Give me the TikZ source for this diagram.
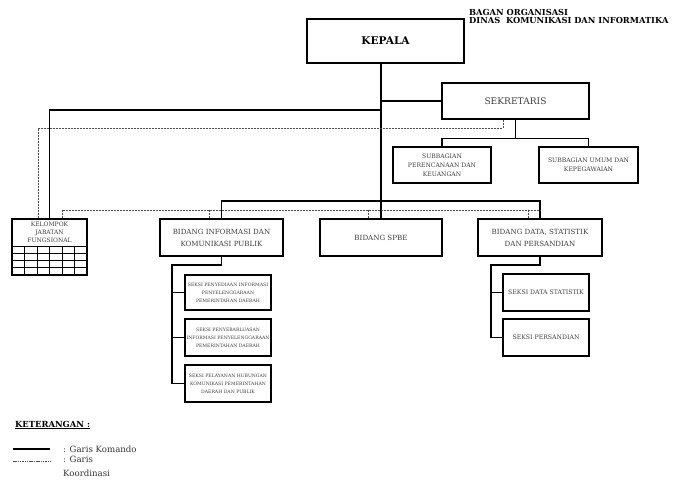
\documentclass[tikz,border=0pt]{standalone}
\usepackage{fontspec}
\setmainfont{DejaVu Serif}
\begin{document}
\begin{tikzpicture}[x=1pt,y=-1pt,
  box/.style={draw=black,line width=1.5pt,inner sep=0pt,align=center,text=black!75},
  cmd/.style={line width=1.5pt,black},
  coord/.style={line width=0.8pt,black!70,dash pattern=on 2pt off 1pt},
  grid/.style={line width=1pt,black}]
\useasboundingbox[fill=white] (0,0) rectangle (678,481);
% title
\node[anchor=north west,align=left,inner sep=0pt,font=\bfseries\fontsize{8.3}{8.5}\selectfont] (title) at (469,9)
  {BAGAN ORGANISASI\\DINAS\ \ KOMUNIKASI DAN INFORMATIKA};
% boxes
\node[box,minimum width=157pt,minimum height=44pt,text=black,font=\bfseries\fontsize{10.6}{12}\selectfont] (kep) at (385.5,41) {KEPALA};
\node[box,minimum width=147pt,minimum height=36pt,font=\fontsize{9.1}{10}\selectfont] (sek) at (515.5,101) {SEKRETARIS};
\node[box,minimum width=98pt,minimum height=36pt,font=\fontsize{6.1}{9}\selectfont] (sub1) at (442,165) {SUBBAGIAN\\PERENCANAAN DAN\\KEUANGAN};
\node[box,minimum width=99pt,minimum height=36pt,font=\fontsize{6.1}{9}\selectfont] (sub2) at (588.5,165) {SUBBAGIAN UMUM DAN\\KEPEGAWAIAN};
\node[box,minimum width=123pt,minimum height=37pt,font=\fontsize{7.1}{12}\selectfont] (bid1) at (221.5,237.5) {BIDANG INFORMASI DAN\\KOMUNIKASI PUBLIK};
\node[box,minimum width=122pt,minimum height=37pt,font=\fontsize{7.1}{12}\selectfont] (bid2) at (381,237.5) {BIDANG SPBE};
\node[box,minimum width=124pt,minimum height=37pt,font=\fontsize{7.1}{12}\selectfont] (bid3) at (540,237.5) {BIDANG DATA, STATISTIK\\DAN PERSANDIAN};
\node[box,minimum width=86pt,minimum height=35pt,font=\fontsize{4.6}{8}\selectfont] (s1) at (228,292.5) {SEKSI PENYEDIAAN INFORMASI\\PENYELENGGARAAN\\PEMERINTAHAN DAERAH};
\node[box,minimum width=86pt,minimum height=37pt,font=\fontsize{4.6}{8}\selectfont] (s2) at (228,337.5) {SEKSI PENYEBARLUASAN\\INFORMASI PENYELENGGARAAN\\PEMERINTAHAN DAERAH};
\node[box,minimum width=86pt,minimum height=37pt,font=\fontsize{4.6}{8}\selectfont] (s3) at (228,383.5) {SEKSI PELAYANAN HUBUNGAN\\KOMUNIKASI PEMERINTAHAN\\DAERAH DAN PUBLIK};
\node[box,minimum width=86pt,minimum height=37pt,font=\fontsize{6.2}{8}\selectfont] (r1) at (546,292.5) {SEKSI DATA STATISTIK};
\node[box,minimum width=86pt,minimum height=37pt,font=\fontsize{6.2}{8}\selectfont] (r2) at (546,337.5) {SEKSI PERSANDIAN};
% kelompok jabatan fungsional
\node[box,minimum width=75pt,minimum height=56pt] (kel) at (49.5,247) {};
\node[inner sep=0pt,align=center,text=black!75,font=\fontsize{6}{8}\selectfont] (keltxt) at (49.5,232) {KELOMPOK\\JABATAN\\FUNGSIONAL};
\draw[grid] (kel.west |- 0,247) -- (kel.east |- 0,247);
\foreach \yy in {254,261,268} \draw[grid] (kel.west |- 0,\yy) -- (kel.east |- 0,\yy);
\foreach \xx in {24.5,37,49.5,62,74.5} \draw[grid] (\xx,247) -- (kel.south -| \xx,0);
% command lines
\coordinate (j1) at (381,110);
\coordinate (j3) at (381,201);
\draw[cmd] (kep.south -| bid2.north) -- (bid2.north);
\draw[cmd] (sek.west) -- (sek.west -| bid2.north);
\draw[cmd] (kel.north) |- (j1);
\draw[cmd] (sek.south) -- ++(0,19) coordinate (j2);
\draw[cmd] (sub1.north) |- (j2) -| (sub2.north);
\draw[cmd] (bid1.north) |- (j3) -| (bid3.north);
\coordinate (lj) at (172,265);
\draw[cmd] (bid1.south) |- (lj) -- (lj |- s3.west) -- (s3.west);
\draw[cmd] (lj |- s1.west) -- (s1.west);
\draw[cmd] (lj |- s2.west) -- (s2.west);
\coordinate (rj) at (491,265);
\draw[cmd] (bid3.south) |- (rj) -- (rj |- r2.west) -- (r2.west);
\draw[cmd] (rj |- r1.west) -- (r1.west);
% coordination lines
\coordinate (c1) at (38,128);
\draw[coord] ([xshift=-12.5pt]sek.south) |- (c1) -- ([xshift=-11.5pt]kel.north);
\coordinate (c2) at (62,210);
\coordinate (c3) at (540,210);
\draw[coord] ([xshift=12.5pt]kel.north) |- (c2) -- (c3);
\draw[coord] ([xshift=-12.5pt]bid1.north) -- ++(0,-9);
\draw[coord] ([xshift=-13pt]bid2.north) -- ++(0,-9);
\draw[coord] ([xshift=-12pt]bid3.north) -- ++(0,-9);
% legend
\node[anchor=west,inner sep=0pt,font=\bfseries\fontsize{8.4}{10}\selectfont] (ket) at (15,425) {\underline{KETERANGAN :}};
\coordinate (l1a) at (13,449);
\coordinate (l1b) at (50,449);
\coordinate (l2a) at (13,461);
\coordinate (l2b) at (50,461);
\draw[cmd,line width=1.3pt] (l1a) -- (l1b);
\draw[coord,line width=0.6pt,dash pattern=on 1.5pt off 0.8pt] (l2a) -- (l2b);
\node[anchor=west,inner sep=0pt,font=\fontsize{8.6}{10}\selectfont,text=black!80] (lg1) at (63,449) {: Garis Komando};
\node[anchor=north west,inner sep=0pt,align=left,font=\fontsize{8.6}{14}\selectfont,text=black!80] (lg2) at (63,456) {: Garis\\Koordinasi};
\end{tikzpicture}
\end{document}
